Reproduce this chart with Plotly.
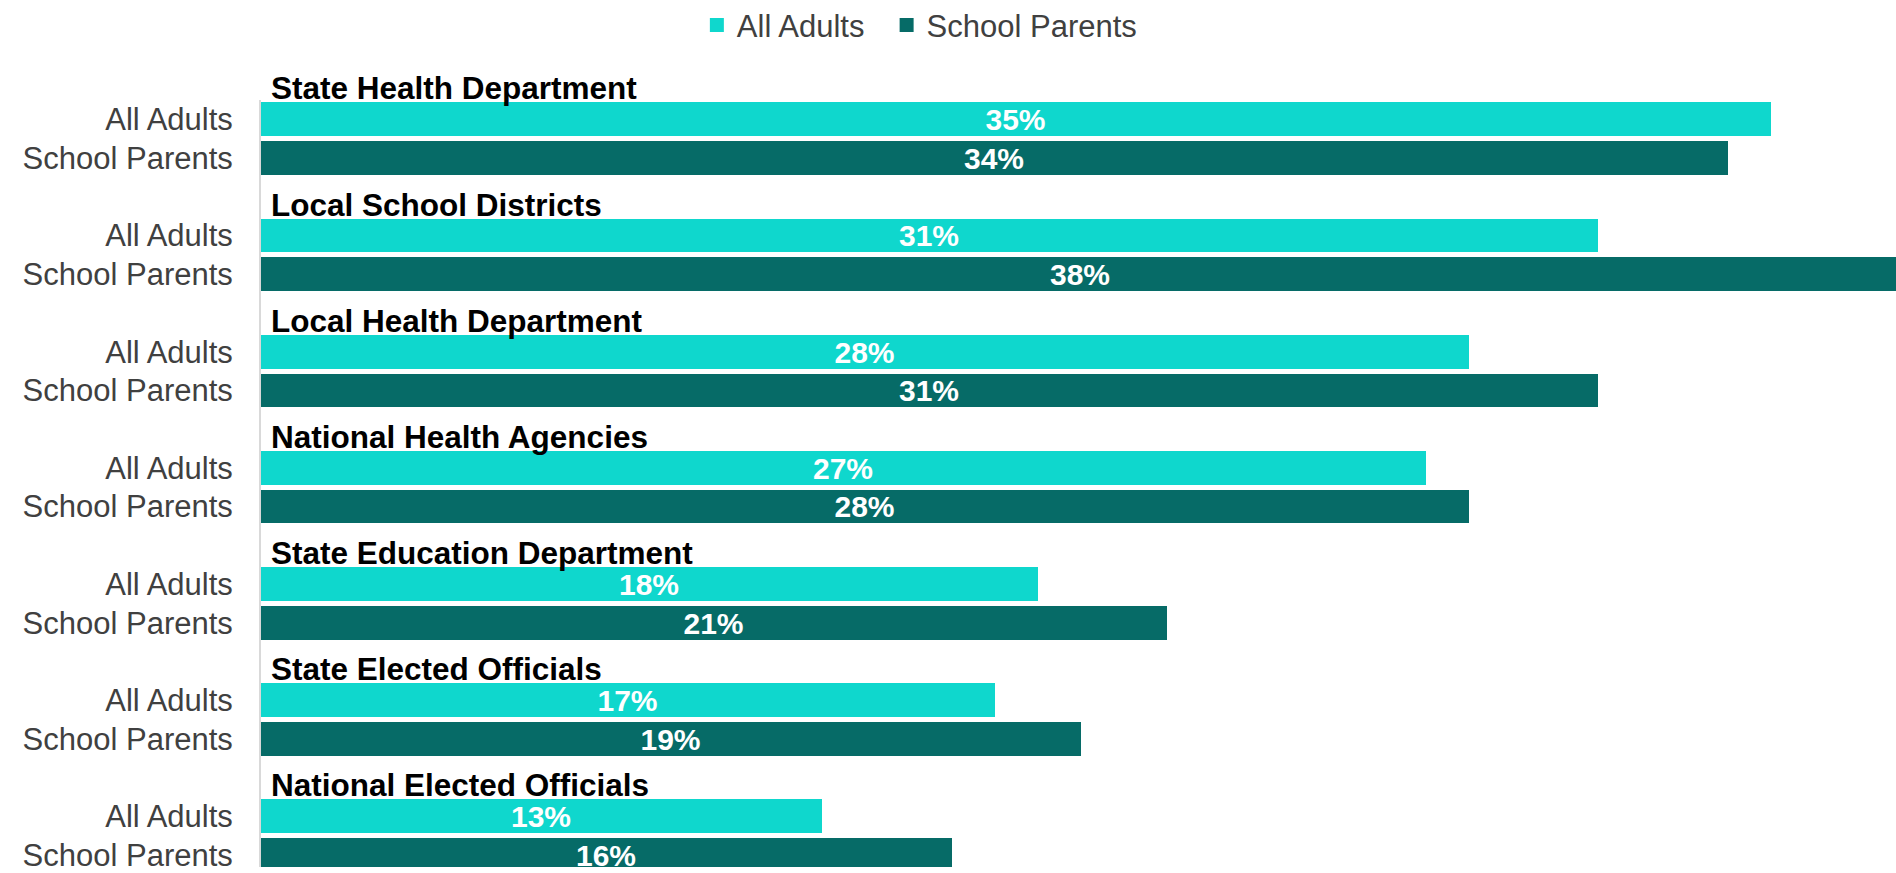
import plotly.graph_objects as go

groups = ["State Health Department", "Local School Districts", "Local Health Department",
          "National Health Agencies", "State Education Department", "State Elected Officials",
          "National Elected Officials"]
series_names = ["All Adults", "School Parents"]
all_adults = [35, 31, 28, 27, 18, 17, 13]
school_parents = [34, 38, 31, 28, 21, 19, 16]
colors = {"All Adults": "#0FD7CD", "School Parents": "#066B67"}

FONT = "Liberation Sans, Arial, sans-serif"

# row positions: header row, then one row per series
rows_aa = [3 * i + 1 for i in range(len(groups))]
rows_sp = [3 * i + 2 for i in range(len(groups))]
header_rows = [3 * i for i in range(len(groups))]

legend_pad = {"All Adults": "\u00a0\u00a0", "School Parents": ""}

fig = go.Figure()
for name, vals, rows in [("All Adults", all_adults, rows_aa), ("School Parents", school_parents, rows_sp)]:
    fig.add_trace(go.Bar(
        name=name + legend_pad[name], orientation="h", y=rows, x=vals, width=0.82,
        marker=dict(color=colors[name], line=dict(width=2, color=colors[name])),
        text=[f"{v}%" for v in vals], textposition="inside", insidetextanchor="middle",
        textangle=0, cliponaxis=True, constraintext="none",
        textfont=dict(family=FONT, size=30, color="white", weight="bold"),
        hoverinfo="skip",
    ))

for g, r in zip(groups, header_rows):
    fig.add_annotation(x=0, y=r + 0.5, xref="x", yref="y", text=f"<b>{g}</b>",
                       showarrow=False, xanchor="left", yanchor="bottom", xshift=8, yshift=-8.5,
                       font=dict(family=FONT, size=31.5, color="black"))

tickvals = []
ticktext = []
for a, s in zip(rows_aa, rows_sp):
    tickvals += [a, s]
    ticktext += series_names

fig.update_layout(
    width=1896, height=873,
    margin=dict(l=261, r=0, t=100, b=0),
    paper_bgcolor="white", plot_bgcolor="white",
    barmode="overlay", bargap=0,
    showlegend=True,
    legend=dict(orientation="h", xref="container", yref="container", x=0.4849, xanchor="center",
                y=0.971, yanchor="middle", font=dict(family=FONT, size=31, color="#404040"),
                traceorder="normal"),
    font=dict(family=FONT),
)
fig.update_xaxes(range=[0, 37.93], showgrid=False, zeroline=False, showticklabels=False,
                 showline=False, fixedrange=True)
fig.update_yaxes(range=[20.31, 0.5], tickvals=tickvals, ticktext=ticktext, showgrid=False,
                 zeroline=False, showline=True, linecolor="#D9D9D9", linewidth=2,
                 ticks="", ticklabelstandoff=20, ticklabeloverflow="allow", fixedrange=True,
                 tickfont=dict(family=FONT, size=31, color="#404040"))

fig.write_html("out.html", config={"displayModeBar": False},
               post_script="document.body.style.margin='0';document.body.style.overflow='hidden';")
